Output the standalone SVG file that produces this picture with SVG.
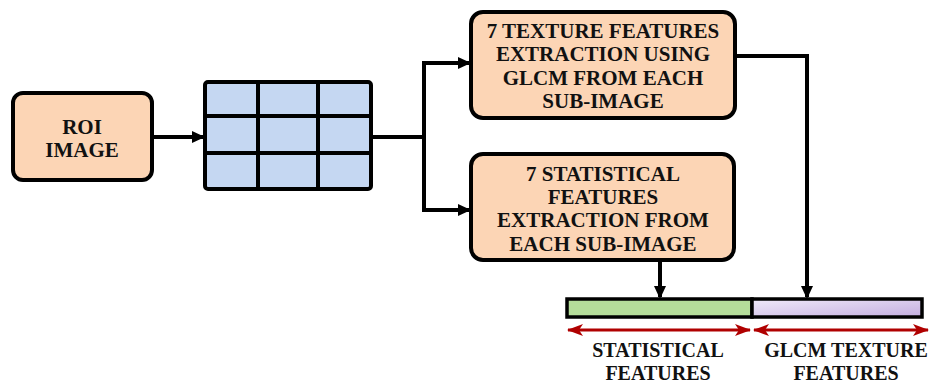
<svg xmlns="http://www.w3.org/2000/svg" width="933" height="386" viewBox="0 0 933 386">
<style>
.box{fill:#fcd5b5;stroke:#000;stroke-width:4}
.t{font-family:"Liberation Serif","Times New Roman",serif;font-weight:bold;font-size:21px;fill:#111;text-anchor:middle}
.lb{font-size:20px}
.ln{fill:none;stroke:#000;stroke-width:4}
.red{fill:none;stroke:#b00000;stroke-width:3}
.grid{fill:none;stroke:#000;stroke-width:4}
</style>
<defs>
<marker id="ah" markerWidth="13" markerHeight="12" refX="11" refY="6" orient="auto" markerUnits="userSpaceOnUse" viewBox="0 0 13 12"><path d="M0,0 L13,6 L0,12 z" fill="#000"/></marker>
<marker id="rh" markerWidth="16" markerHeight="12" refX="15" refY="6" orient="auto-start-reverse" markerUnits="userSpaceOnUse" viewBox="0 0 16 12"><path d="M0,0 L16,6 L0,12 L4,6 z" fill="#b00000"/></marker>
<linearGradient id="pg" x1="0" y1="0" x2="1" y2="1"><stop offset="0" stop-color="#f0eafa"/><stop offset="1" stop-color="#c3addf"/></linearGradient>
</defs>
<g id="roi">
<rect class="box" x="13" y="93" width="139" height="87" rx="10"/>
<text class="t" x="82" y="134">ROI</text>
<text class="t" x="82" y="157">IMAGE</text>
</g>
<g id="grid">
<rect x="205" y="82" width="166" height="107" rx="3" fill="#c5d7f2"/>
<path class="grid" d="M258,82V189M318,82V189M205,116H371M205,153H371"/>
<rect class="grid" x="205" y="82" width="166" height="107" rx="3"/>
</g>
<g id="texture">
<rect class="box" x="471" y="12" width="264" height="106" rx="12"/>
<text class="t" x="603" y="38">7 TEXTURE FEATURES</text>
<text class="t" x="603" y="61">EXTRACTION USING</text>
<text class="t" x="603" y="85">GLCM FROM EACH</text>
<text class="t" x="603" y="108">SUB-IMAGE</text>
</g>
<g id="statistical">
<rect class="box" x="471" y="154" width="263" height="106" rx="12"/>
<text class="t" x="603" y="181">7 STATISTICAL</text>
<text class="t" x="603" y="204">FEATURES</text>
<text class="t" x="603" y="227">EXTRACTION FROM</text>
<text class="t" x="603" y="251">EACH SUB-IMAGE</text>
</g>
<g id="bar">
<rect x="567" y="299" width="185" height="18" fill="#b5dd9a" stroke="#000" stroke-width="3.5"/>
<rect x="752" y="299" width="170" height="18" fill="url(#pg)" stroke="#000" stroke-width="3.5"/>
</g>
<g id="labels">
<text class="t lb" x="658" y="357">STATISTICAL</text>
<text class="t lb" x="658" y="380">FEATURES</text>
<text class="t lb" x="846" y="357">GLCM TEXTURE</text>
<text class="t lb" x="846" y="380">FEATURES</text>
</g>
<g id="connectors">
<path class="ln" d="M152,137H203" marker-end="url(#ah)"/>
<path class="ln" d="M371,137H424"/>
<path class="ln" d="M424,210V63H469" marker-end="url(#ah)"/>
<path class="ln" d="M424,137V210H469" marker-end="url(#ah)"/>
<path class="ln" d="M735,56H807V297" marker-end="url(#ah)"/>
<path class="ln" d="M660,260V297" marker-end="url(#ah)"/>
<path class="red" d="M568,330H750" marker-start="url(#rh)" marker-end="url(#rh)"/>
<path class="red" d="M754,330H928" marker-start="url(#rh)" marker-end="url(#rh)"/>
</g>
</svg>
